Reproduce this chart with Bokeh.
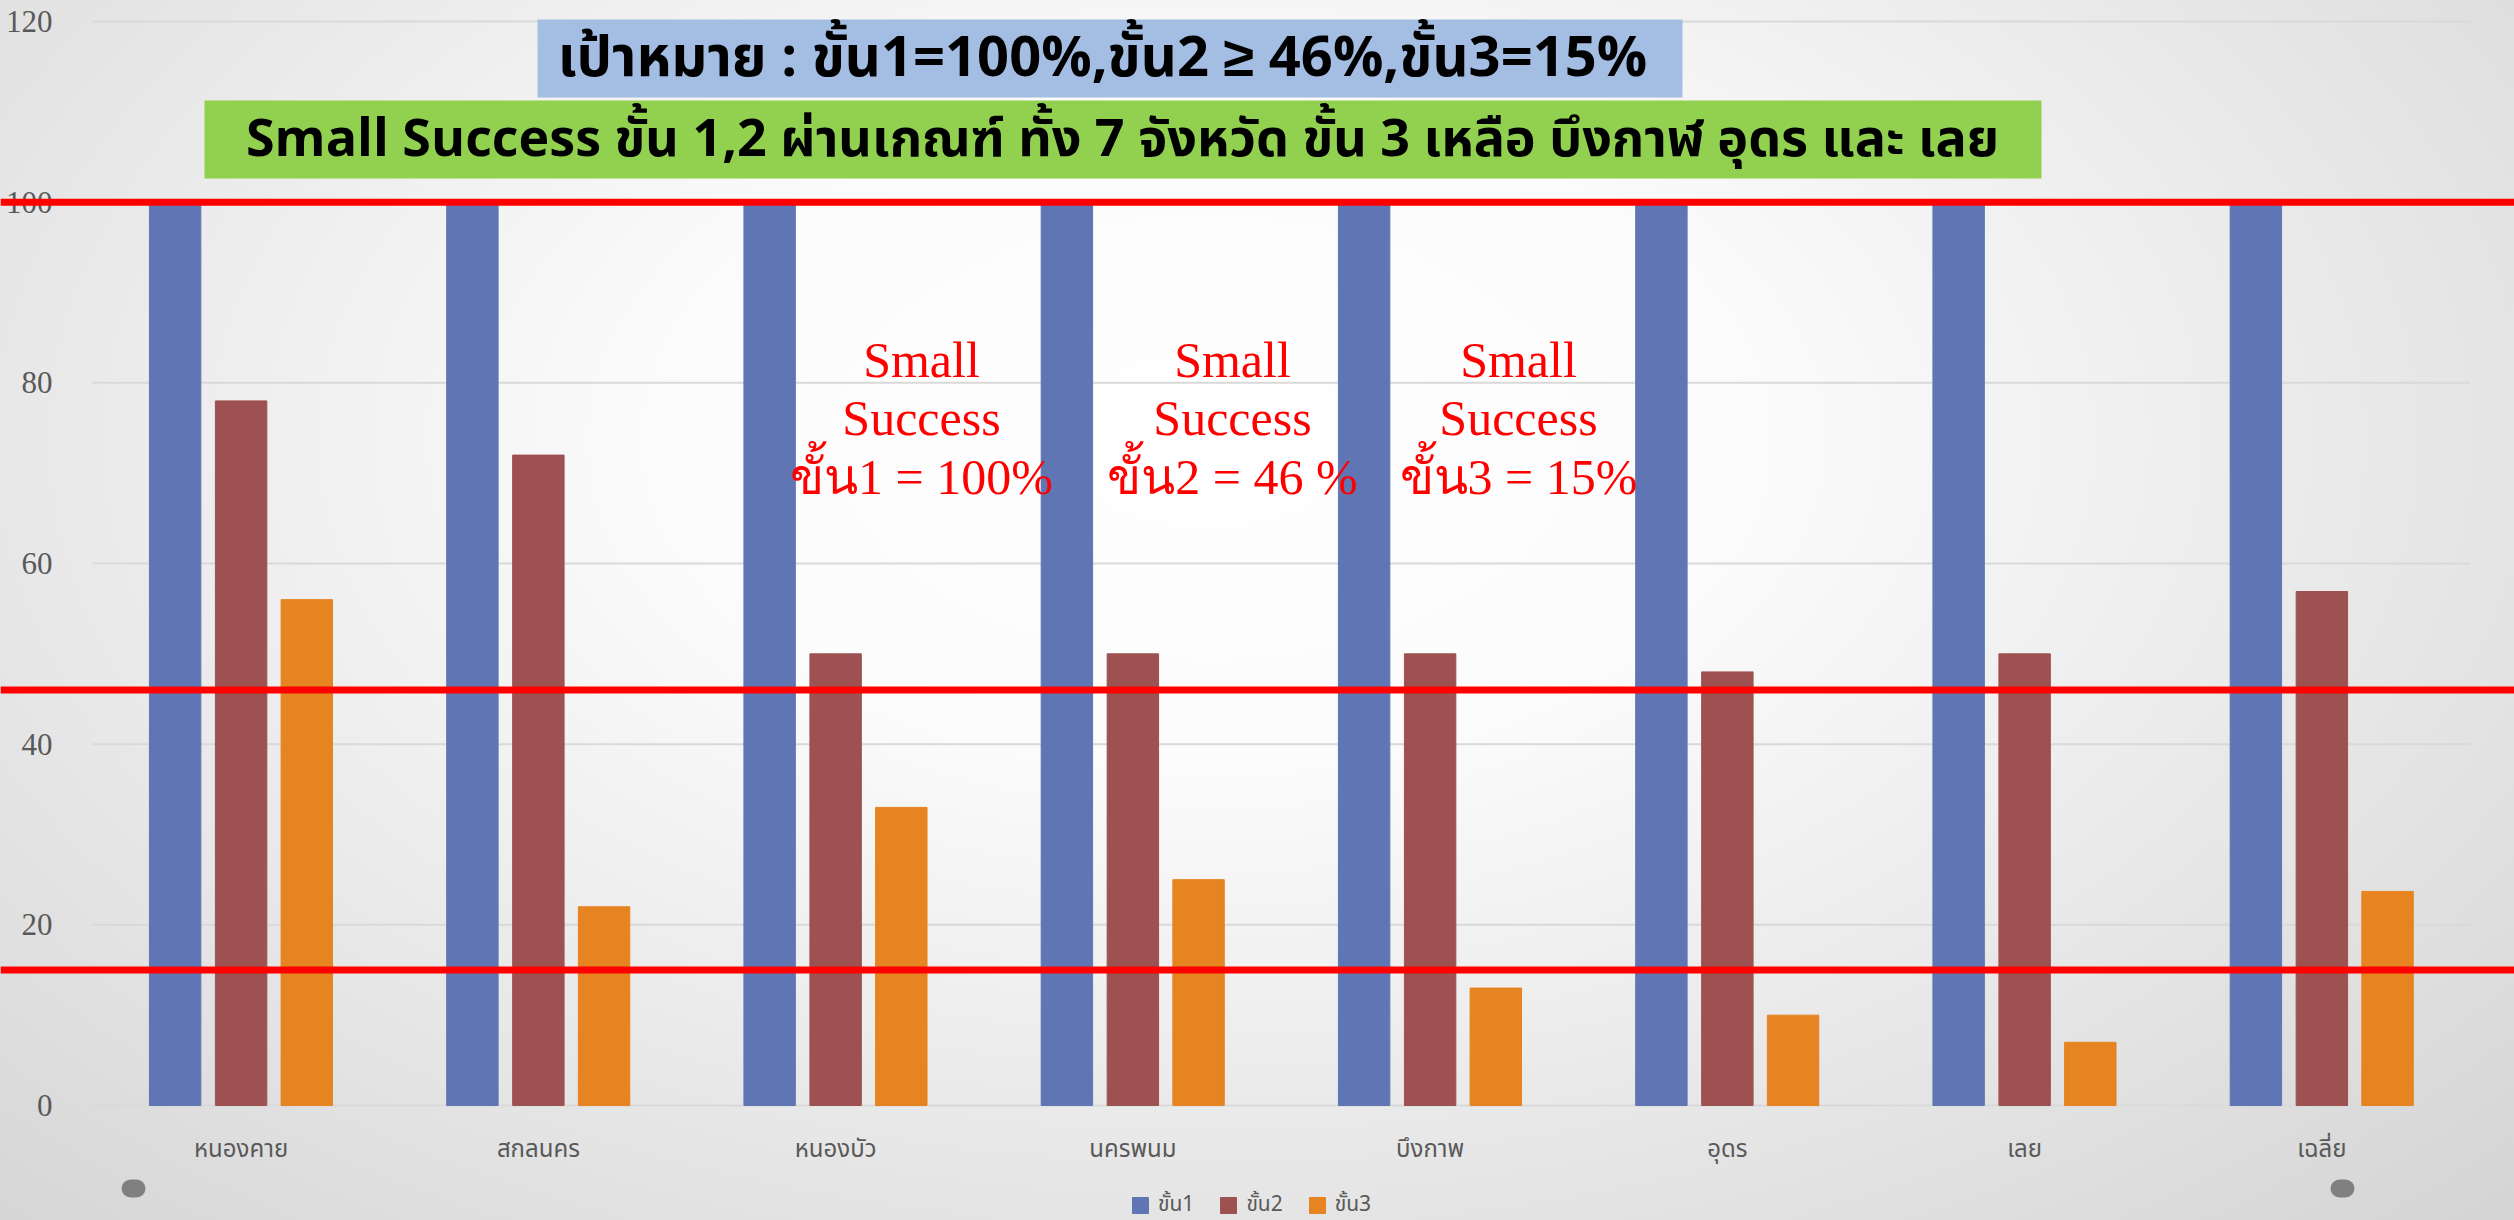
from bokeh.plotting import figure
from bokeh.models import (Range1d, BoxAnnotation, Label, Legend,
                          LegendItem, ColumnDataSource, FixedTicker)
from bokeh.transform import dodge
from bokeh.embed import file_html
from bokeh.resources import INLINE

# ---------------- data ----------------
categories = ["หนองคาย", "สกลนคร", "หนองบัว", "นครพนม", "บึงกาพ", "อุดร", "เลย", "เฉลี่ย"]
step1 = [100, 100, 100, 100, 100, 100, 100, 100]
step2 = [78, 72, 50, 50, 50, 48, 50, 56.9]
step3 = [56, 22, 33, 25, 13, 10, 7, 23.7]
series_names = ["ขั้น1", "ขั้น2", "ขั้น3"]
targets = [100, 46, 15]
y_ticks = [0, 20, 40, 60, 80, 100, 120]
header_goal = "เป้าหมาย : ขั้น1=100%,ขั้น2 ≥ 46%,ขั้น3=15%"
header_result = "Small Success ขั้น 1,2 ผ่านเกณฑ์ ทั้ง 7 จังหวัด ขั้น 3 เหลือ บึงกาฬ อุดร และ เลย"
note_texts = ["Small\nSuccess\nขั้น1 = 100%", "Small\nSuccess\nขั้น2 = 46 %", "Small\nSuccess\nขั้น3 = 15%"]

# ---------------- styles / layout ----------------
colors = ["#6076B4", "#9D5151", "#E58421"]
W, H = 2514, 1220
CAT_L, CAT_R, Y0_PX, YTOP_PX = 92, 2470, 1105, 21   # plot band in canvas px
Y_MAX = 120
THAI = "'Noto Sans Thai', 'Noto Sans', sans-serif"
n = len(categories)
px_per_x = (CAT_R - CAT_L) / n
px_per_y = (Y0_PX - YTOP_PX) / Y_MAX

def xs(px):
    """canvas pixel -> x coordinate (category i centred at i)"""
    return (px - CAT_L) / px_per_x - 0.5

def ys(py):
    """canvas pixel -> data y coordinate"""
    return (Y0_PX - py) / px_per_y

p = figure(x_range=Range1d(xs(0), xs(W)), y_range=Range1d(ys(H), ys(0)),
           width=W, height=H, output_backend="svg", toolbar_location=None,
           title=None, min_border=0,
           min_border_left=0, min_border_right=0, min_border_top=0, min_border_bottom=0)
p.styles = {"background": "radial-gradient(ellipse farthest-corner at 48% 36%, #ffffff 0%, #fbfbfb 30%, #d4d4d4 100%)"}
p.border_fill_color = None
p.background_fill_color = None
p.outline_line_color = None
p.xgrid.visible = False
p.ygrid.visible = False

# horizontal grid lines across the category band
p.segment(x0=-0.5, x1=n - 0.5, y0=y_ticks, y1=y_ticks, line_color="#d9d9d9", line_width=2)

src = ColumnDataSource(dict(pos=list(range(n)), s1=step1, s2=step2, s3=step3))
offsets = [-0.222, 0.0, 0.221]
renderers = []
for key, off, col in zip(["s1", "s2", "s3"], offsets, colors):
    r = p.vbar(x=dodge("pos", off), top=key, width=0.173,
               source=src, fill_color=col, line_color=col, line_width=1)
    renderers.append(r)

# axes (fixed inside the canvas)
p.yaxis.fixed_location = -0.5
p.xaxis.fixed_location = 0
p.yaxis.ticker = FixedTicker(ticks=y_ticks)
p.xaxis.ticker = FixedTicker(ticks=list(range(n)))
p.xaxis.major_label_overrides = {i: c for i, c in enumerate(categories)}
for ax in (p.xaxis, p.yaxis):
    ax.axis_line_color = None
    ax.major_tick_line_color = None
    ax.minor_tick_line_color = None
    ax.major_label_text_color = "#595959"
p.yaxis.major_label_text_font = "Liberation Serif"
p.yaxis.major_label_text_font_size = "31px"
p.yaxis.major_label_standoff = 34
p.xaxis.major_label_text_font = THAI
p.xaxis.major_label_text_font_size = "24px"
p.xaxis.major_label_standoff = 20

# target lines across the whole canvas
half = 3.5 / px_per_y
for t in targets:
    p.add_layout(BoxAnnotation(bottom=t - half, top=t + half,
                               fill_color="#ff0000", fill_alpha=1, line_color=None,
                               level="annotation"))

# header boxes
p.add_layout(BoxAnnotation(left=xs(537), right=xs(1682), top=ys(19), bottom=ys(97),
                           fill_color="#A3BDE3", fill_alpha=1, line_color=None))
p.add_layout(BoxAnnotation(left=xs(204), right=xs(2041), top=ys(100), bottom=ys(178),
                           fill_color="#92D050", fill_alpha=1, line_color=None))
p.add_layout(Label(x=xs(1102), y=ys(58), text=header_goal, text_align="center",
                   text_baseline="middle", text_font=THAI, text_font_style="bold",
                   text_font_size="56px", text_color="black"))
p.add_layout(Label(x=xs(1122), y=ys(139), text=header_result, text_align="center",
                   text_baseline="middle", text_font=THAI, text_font_style="bold",
                   text_font_size="52px", text_color="black"))

# red notes
for txt, px in zip(note_texts, [921, 1232, 1518]):
    p.add_layout(Label(x=xs(px), y=ys(418), text=txt, text_align="center",
                       text_baseline="middle", text_font="Liberation Serif",
                       text_font_size="50px", text_color="#ff0000",
                       text_line_height=1.05))

# decorative grey dots
for cx in [133, 2342]:
    p.add_layout(BoxAnnotation(left=xs(cx - 12), right=xs(cx + 12), top=ys(1179), bottom=ys(1197),
                               fill_color="#808080", fill_alpha=1, line_color=None,
                               border_radius=9, level="overlay"))

legend = Legend(items=[LegendItem(label=s, renderers=[r]) for s, r in zip(series_names, renderers)],
                orientation="horizontal", location=(1130, 0),
                glyph_width=20, glyph_height=20, label_standoff=8, spacing=24,
                padding=0, margin=0, border_line_color=None, background_fill_alpha=0,
                label_text_font=THAI, label_text_font_size="21px",
                label_text_color="#595959", label_height=20)
p.add_layout(legend)

open("out.html", "w").write(file_html(p, INLINE))
